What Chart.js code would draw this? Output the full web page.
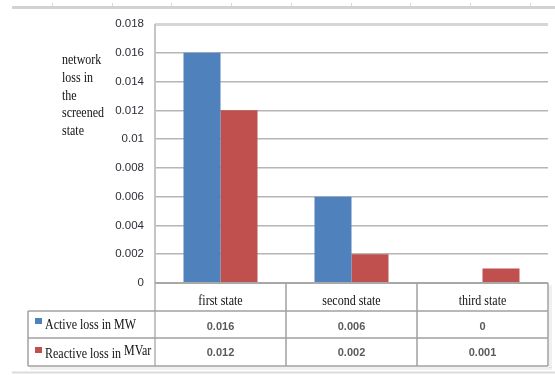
<!DOCTYPE html>
<html>
<head>
<meta charset="utf-8">
<script src="https://cdn.jsdelivr.net/npm/chart.js@4/dist/chart.umd.min.js"></script>
<style>
  html, body { margin: 0; padding: 0; background: #ffffff; }
  #wrap { width: 555px; height: 375px; position: relative; }
</style>
</head>
<body>
<div id="wrap"><canvas id="chart" width="555" height="375"></canvas></div>
<script>
// Network losses per state
const categories = ['first state', 'second state', 'third state'];
const activeLoss = [0.016, 0.006, 0];
const reactiveLoss = [0.012, 0.002, 0.001];
const seriesNames = ['Active loss in MW', 'Reactive loss in MVar'];
const seriesColors = ['#4F81BD', '#C0504D'];
const yAxisTitle = ['network', 'loss in', 'the', 'screened', 'state'];
const yMin = 0;
const yMax = 0.018;
const yStep = 0.002;

const SERIF = '"Liberation Serif", "Times New Roman", serif';
const SANS = '"Liberation Sans", Arial, sans-serif';

function fmt(v) {
  return String(+Number(v).toFixed(3));
}

// text drawn slightly taller than wide, like the stretched document figure
function stretchedText(ctx, text, x, y, font, align, sy, color) {
  ctx.save();
  ctx.font = font;
  ctx.fillStyle = color;
  ctx.textAlign = align;
  ctx.textBaseline = 'alphabetic';
  ctx.translate(x, y);
  ctx.scale(1, sy);
  ctx.fillText(text, 0, 0);
  ctx.restore();
}

function hLine(ctx, x1, x2, y, color, w) {
  ctx.beginPath();
  ctx.strokeStyle = color;
  ctx.lineWidth = w;
  ctx.moveTo(x1, y);
  ctx.lineTo(x2, y);
  ctx.stroke();
}
function vLine(ctx, x, y1, y2, color, w) {
  ctx.beginPath();
  ctx.strokeStyle = color;
  ctx.lineWidth = w;
  ctx.moveTo(x, y1);
  ctx.lineTo(x, y2);
  ctx.stroke();
}

// page rules above and below the figure, axis title and the data table
const decorPlugin = {
  id: 'decor',
  beforeDraw(chart) {
    const ctx = chart.ctx;
    ctx.save();
    ctx.fillStyle = '#ffffff';
    ctx.fillRect(0, 0, chart.width, chart.height);
    // top rule with small marks
    hLine(ctx, 12, chart.width, 7.5, '#d2d2d2', 3);
    for (let x = 52; x < chart.width; x += 59.7) {
      vLine(ctx, Math.round(x) + 0.5, 3, 6, '#d8d8d8', 1);
    }
    // bottom rule
    hLine(ctx, 12, chart.width, 372.5, '#dcdcdc', 2);
    ctx.restore();
  },
  afterDatasetsDraw(chart) {
    const ctx = chart.ctx;
    const area = chart.chartArea;
    const xs = chart.scales.x;
    const n = categories.length;
    const colW = (area.right - area.left) / n;
    const headTop = area.bottom;
    const row1 = headTop + 28;
    const row2 = row1 + 27;
    const tableBottom = row2 + 28;
    const legLeft = 28;
    ctx.save();

    // axis title
    yAxisTitle.forEach((t, i) => {
      stretchedText(ctx, t, 62, 64 + i * 17.8, '12px ' + SERIF, 'left', 1.3, '#111111');
    });

    // plot left border
    vLine(ctx, area.left, area.top, tableBottom, '#c4c4c4', 2);

    // table shadow
    ctx.fillStyle = 'rgba(0,0,0,0.06)';
    ctx.fillRect(area.right + 1, headTop + 2, 3, tableBottom - headTop);
    ctx.fillRect(legLeft + 2, tableBottom + 1, area.right - legLeft + 2, 3);

    // horizontal table rules
    hLine(ctx, area.left, area.right, headTop, '#a8a8a8', 2);
    hLine(ctx, legLeft, area.right, row1, '#a0a0a0', 1.5);
    hLine(ctx, legLeft, area.right, row2, '#a0a0a0', 1.5);
    hLine(ctx, legLeft, area.right, tableBottom, '#a0a0a0', 1.5);
    // vertical table rules
    vLine(ctx, legLeft, row1, tableBottom, '#a0a0a0', 1.5);
    for (let i = 1; i <= n; i++) {
      const x = xs.getPixelForValue(i - 1) + colW / 2;
      vLine(ctx, x, headTop, tableBottom, '#a0a0a0', 1.5);
    }

    // category headers
    categories.forEach((c, i) => {
      stretchedText(ctx, c, xs.getPixelForValue(i), headTop + 22, '12px ' + SERIF, 'center', 1.3, '#111111');
    });

    // legend keys + series names
    const rowBase = [row1 + 18, row2 + 20];
    chart.data.datasets.forEach((ds, di) => {
      ctx.fillStyle = ds.backgroundColor;
      ctx.fillRect(35, rowBase[di] - 11, 7, 6);
    });
    stretchedText(ctx, seriesNames[0], 45, rowBase[0], '12px ' + SERIF, 'left', 1.3, '#111111');
    // second name: unit is set a little higher
    const parts = seriesNames[1].split(' ');
    const unit = parts.pop();
    const head = parts.join(' ') + ' ';
    ctx.font = '12px ' + SERIF;
    const headW = ctx.measureText(head).width;
    stretchedText(ctx, head, 45, rowBase[1], '12px ' + SERIF, 'left', 1.3, '#111111');
    stretchedText(ctx, unit, 45 + headW, rowBase[1] - 3, '12px ' + SERIF, 'left', 1.3, '#111111');

    // values
    const valBase = [row1 + 18.5, row2 + 18];
    chart.data.datasets.forEach((ds, di) => {
      ds.data.forEach((v, i) => {
        stretchedText(ctx, fmt(v), xs.getPixelForValue(i), valBase[di], 'bold 11px ' + SANS, 'center', 1.05, '#5a5a5a');
      });
    });
    ctx.restore();
  }
};

new Chart(document.getElementById('chart'), {
  type: 'bar',
  data: {
    labels: categories,
    datasets: [
      { label: seriesNames[0], data: activeLoss, backgroundColor: seriesColors[0] },
      { label: seriesNames[1], data: reactiveLoss, backgroundColor: seriesColors[1] }
    ]
  },
  options: {
    responsive: false,
    animation: false,
    devicePixelRatio: 1,
    layout: { padding: { top: 24, right: 7, bottom: 0, left: 0 } },
    datasets: {
      bar: { categoryPercentage: 0.565, barPercentage: 1, borderWidth: 0 }
    },
    plugins: {
      legend: { display: false },
      tooltip: { enabled: false }
    },
    scales: {
      x: {
        ticks: { display: false },
        grid: { display: false },
        border: { display: false },
        afterFit(scale) { scale.height = 92; }
      },
      y: {
        min: yMin,
        max: yMax,
        ticks: {
          stepSize: yStep,
          padding: 11,
          color: '#2e2e38',
          font: { family: SANS, size: 11.5 },
          callback: (v) => fmt(v)
        },
        grid: {
          drawTicks: false,
          color: (c) => (c.index === 9 ? '#d6d6d6' : (c.index === 0 ? '#a8a8a8' : '#b6b6b6')),
          lineWidth: (c) => (c.index === 9 ? 3 : 1.5)
        },
        border: { display: false },
        afterFit(scale) { scale.width = 155; }
      }
    }
  },
  plugins: [decorPlugin]
});
</script>
</body>
</html>
